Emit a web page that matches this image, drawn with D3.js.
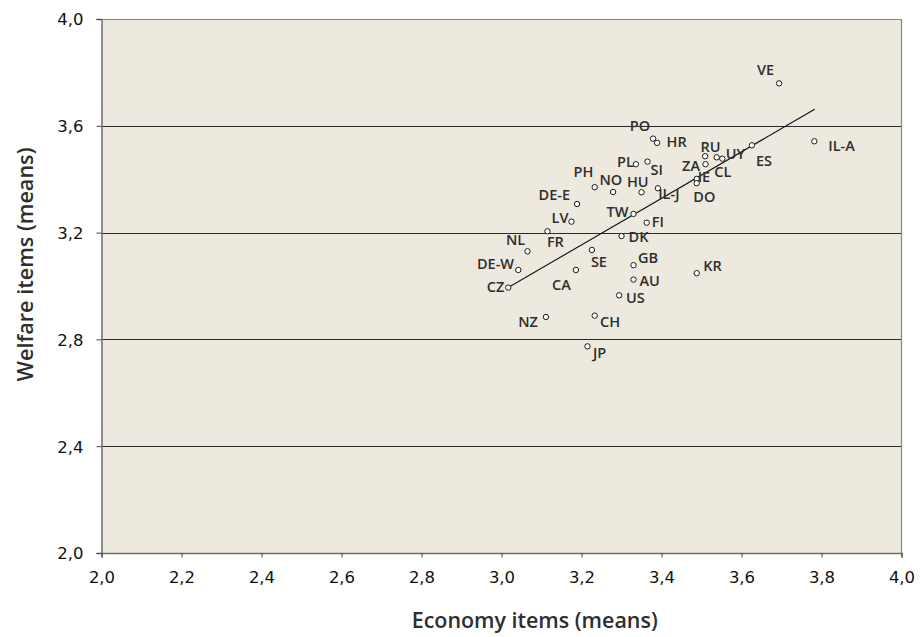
<!DOCTYPE html>
<html>
<head>
<meta charset="utf-8">
<script src="https://cdn.jsdelivr.net/npm/d3@7"></script>
<style>
  html, body { margin: 0; padding: 0; background: #ffffff; }
  svg { display: block; }
</style>
</head>
<body>
<svg id="chart" width="923" height="637"></svg>
<script>
// ---------------- DATA ----------------
const codes   = ["VE","IL-A","ES","HR","PO","RU","UY","CL","ZA","IE","DO","PL","SI","PH","NO","HU","IL-J","DE-E","TW","LV","FI","FR","DK","NL","SE","GB","KR","DE-W","CA","CZ","AU","US","NZ","CH","JP"];
const economy = [3.694,3.782,3.626,3.389,3.379,3.509,3.538,3.552,3.510,3.488,3.488,3.336,3.365,3.233,3.279,3.350,3.391,3.189,3.330,3.175,3.363,3.115,3.300,3.065,3.226,3.330,3.488,3.042,3.186,3.017,3.330,3.294,3.111,3.233,3.215];
const welfare = [3.759,3.542,3.527,3.536,3.552,3.486,3.482,3.477,3.456,3.401,3.385,3.456,3.466,3.370,3.352,3.351,3.366,3.307,3.270,3.241,3.237,3.205,3.187,3.130,3.135,3.078,3.048,3.060,3.060,2.994,3.024,2.965,2.884,2.889,2.774];

// regression (trend) line end points
const trendX = [3.02, 3.783];
const trendY = [2.997, 3.662];

// axis ticks
const xTicks = [2.0,2.2,2.4,2.6,2.8,3.0,3.2,3.4,3.6,3.8,4.0];
const yTicks = [2.0,2.4,2.8,3.2,3.6,4.0];
const gridValues = [2.4,2.8,3.2,3.6];

const xTitle = "Economy items (means)";
const yTitle = "Welfare items (means)";

// ---------------- LAYOUT (label placement, not data) ----------------
const labelPlace = {
  "VE":["end",-5,-8], "IL-A":["start",14,9.5], "ES":["start",4,20.4], "HR":["start",9.5,4.3],
  "PO":["end",-3,-8], "RU":["start",-4.7,-4], "UY":["start",9,2], "CL":["start",-8,18],
  "ZA":["end",-5.5,6.7], "IE":["start",1,2.7], "DO":["start",-3.4,18.4], "PL":["end",-2,2.4],
  "SI":["start",3,13.3], "PH":["end",-1.4,-10], "NO":["start",-13.7,-7], "HU":["start",-14.6,-5.6],
  "IL-J":["start",0.3,11], "DE-E":["end",-7,-4], "TW":["end",-5,2.7], "LV":["end",-3,1],
  "FI":["start",5,4], "FR":["start",-0.6,16], "DK":["start",7,6.3], "NL":["end",-2.3,-6.3],
  "SE":["start",-1,16.7], "GB":["start",4.4,-2.6], "KR":["start",6.6,-2.6], "DE-W":["end",-4.3,-1],
  "CA":["end",-5,20], "CZ":["end",-4,4], "AU":["start",6,6], "US":["start",7,8],
  "NZ":["end",-8,10.3], "CH":["start",5.3,11.6], "JP":["start",5.4,12]
};

// ---------------- DRAW ----------------
const svg = d3.select("#chart");
const plot = {left: 101.5, right: 901.5, top: 19, bottom: 553};

const x = d3.scaleLinear().domain([2, 4]).range([plot.left, plot.right]);
const y = d3.scaleLinear().domain([2, 4]).range([plot.bottom, plot.top]);

const loc = d3.formatLocale({decimal: ",", thousands: ".", grouping: [3], currency: ["", ""]});
const fmt = loc.format(".1f");

// plot background
svg.append("rect")
  .attr("x", plot.left).attr("y", plot.top)
  .attr("width", plot.right - plot.left).attr("height", plot.bottom - plot.top)
  .attr("fill", "#ede9df");

// gridlines
svg.append("g").selectAll("line").data(gridValues).join("line")
  .attr("x1", plot.left).attr("x2", plot.right)
  .attr("y1", d => Math.round(y(d)) + 0.5).attr("y2", d => Math.round(y(d)) + 0.5)
  .attr("stroke", "#2a2a2a").attr("stroke-width", 1);

// top & right border
svg.append("path")
  .attr("d", `M${plot.left},${plot.top + 0.5}H${plot.right}V${plot.bottom}`)
  .attr("fill", "none").attr("stroke", "#858585").attr("stroke-width", 1.2);

// Y axis
const yAxis = d3.axisLeft(y).tickValues(yTicks).tickFormat(fmt).tickSize(5).tickPadding(13);
const gy = svg.append("g").attr("transform", `translate(${plot.left},0)`).call(yAxis);
gy.select(".domain").attr("stroke", "#6f6f6f").attr("stroke-width", 1.5);
gy.selectAll(".tick line").attr("stroke", "#444");
gy.selectAll(".tick text")
  .attr("font-family", "'DejaVu Sans', sans-serif").attr("font-size", 16.5)
  .attr("fill", "#111").attr("dy", "0.36em");

// X axis
const xAxis = d3.axisBottom(x).tickValues(xTicks).tickFormat(fmt).tickSize(4.5).tickPadding(0);
const gx = svg.append("g").attr("transform", `translate(0,${plot.bottom})`).call(xAxis);
gx.select(".domain").attr("stroke", "#6f6f6f").attr("stroke-width", 1.5);
gx.selectAll(".tick line").attr("stroke", "#444");
gx.selectAll(".tick text")
  .attr("font-family", "'DejaVu Sans', sans-serif").attr("font-size", 16.5)
  .attr("fill", "#111").attr("y", 30).attr("dy", 0);

// trend line
svg.append("line")
  .attr("x1", x(trendX[0])).attr("y1", y(trendY[0]))
  .attr("x2", x(trendX[1])).attr("y2", y(trendY[1]))
  .attr("stroke", "#111").attr("stroke-width", 1.1);

const pts = codes.map((c, i) => ({code: c, ex: economy[i], wf: welfare[i]}));

// points
svg.append("g").selectAll("circle").data(pts).join("circle")
  .attr("cx", d => x(d.ex)).attr("cy", d => y(d.wf)).attr("r", 2.7)
  .attr("fill", "#ffffff").attr("stroke", "#1a1a1a").attr("stroke-width", 1);

// labels
svg.append("g").selectAll("text").data(pts).join("text")
  .attr("x", d => x(d.ex) + labelPlace[d.code][1])
  .attr("y", d => y(d.wf) + labelPlace[d.code][2])
  .attr("text-anchor", d => labelPlace[d.code][0])
  .attr("font-family", "'Open Sans', sans-serif").attr("font-weight", 600)
  .attr("font-size", 14.5).attr("fill", "#2e2e2e")
  .text(d => d.code);

// axis titles
svg.append("text")
  .attr("x", 534.7).attr("y", 628)
  .attr("text-anchor", "middle")
  .attr("font-family", "'Open Sans', sans-serif").attr("font-weight", 600)
  .attr("font-size", 22).attr("fill", "#2e2e2e")
  .attr("textLength", 246).attr("lengthAdjust", "spacingAndGlyphs")
  .text(xTitle);

svg.append("text")
  .attr("transform", "translate(33,264.5) rotate(-90)")
  .attr("text-anchor", "middle")
  .attr("font-family", "'Open Sans', sans-serif").attr("font-weight", 600)
  .attr("font-size", 22).attr("fill", "#2e2e2e")
  .attr("textLength", 234).attr("lengthAdjust", "spacingAndGlyphs")
  .text(yTitle);
</script>
</body>
</html>
